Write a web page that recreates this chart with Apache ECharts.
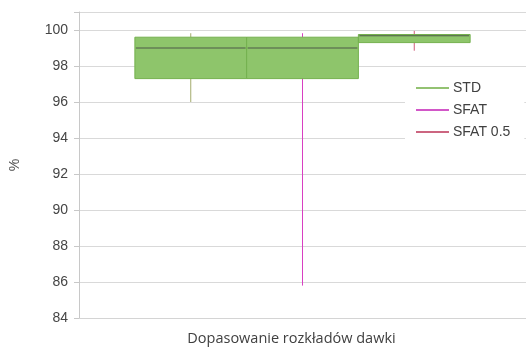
<!DOCTYPE html>
<html>
<head>
<meta charset="utf-8">
<script src="https://cdn.jsdelivr.net/npm/echarts@6/dist/echarts.min.js"></script>
<style>html,body{margin:0;padding:0;background:#fff}#c{width:526px;height:351px}</style>
</head>
<body>
<div id="c"></div>
<script>
// Data
const seriesNames = ['STD', 'SFAT', 'SFAT 0.5'];
const positions = [1, 2, 3];
// [min, q1, median, q3, max]
const stdValues = [96.0, 97.3, 99.0, 99.6, 99.82];
const sfatValues = [85.8, 97.3, 99.0, 99.6, 99.82];
const sfat05Values = [98.85, 99.3, 99.68, 99.75, 99.95];
const whiskerColors = ['#a3ab6c', '#d83fc2', '#cf5a78'];
const legendColors = ['#93c272', '#d257c8', '#cc6580'];
const yTicks = [84, 86, 88, 90, 92, 94, 96, 98, 100];

const allValues = [stdValues, sfatValues, sfat05Values];

function renderBox(params, api) {
  const x = api.value(0);
  const mn = api.value(1), q1 = api.value(2), md = api.value(3), q3 = api.value(4), mx = api.value(5);
  const w = api.size([1, 0])[0];
  const pMax = api.coord([x, mx]);
  const pQ3 = api.coord([x, q3]);
  const pMd = api.coord([x, md]);
  const pQ1 = api.coord([x, q1]);
  const pMin = api.coord([x, mn]);
  const left = pMax[0] - w / 2;
  const wc = whiskerColors[params.seriesIndex];
  return {
    type: 'group',
    children: [
      { type: 'line', shape: { x1: pMax[0], y1: pMax[1], x2: pQ3[0], y2: pQ3[1] }, style: { stroke: wc, lineWidth: 1 } },
      { type: 'line', shape: { x1: pQ1[0], y1: pQ1[1], x2: pMin[0], y2: pMin[1] }, style: { stroke: wc, lineWidth: 1 } },
      { type: 'rect', shape: { x: left, y: pQ3[1], width: w, height: pQ1[1] - pQ3[1] }, style: { fill: '#8ec56b', stroke: '#74b04e', lineWidth: 1 } },
      { type: 'line', shape: { x1: left + 1, y1: pMd[1], x2: left + w - 1, y2: pMd[1] }, style: { stroke: '#4d5a48', lineWidth: 1.2 } }
    ]
  };
}

const series = seriesNames.map((name, i) => ({
  name: name,
  type: 'custom',
  renderItem: renderBox,
  itemStyle: { color: legendColors[i] },
  encode: { x: 0, y: [1, 2, 3, 4, 5] },
  data: [[positions[i]].concat(allValues[i])]
}));

const chart = echarts.init(document.getElementById('c'), null, { renderer: 'canvas' });
chart.setOption({
  animation: false,
  backgroundColor: '#fff',
  grid: { left: 77, right: 0, top: 12, bottom: 32 },
  xAxis: {
    type: 'value', min: 0, max: 4,
    name: 'Dopasowanie rozkładów dawki',
    nameLocation: 'middle', nameGap: 13,
    nameTextStyle: { fontFamily: 'Open Sans', fontSize: 14.5, color: '#404040', padding: [0, 22, 0, 0] },
    axisLabel: { show: false }, axisTick: { show: false },
    splitLine: { show: false },
    axisLine: { show: true, lineStyle: { color: '#d4d4d4' } }
  },
  yAxis: {
    type: 'value', min: yTicks[0], max: 101, interval: 2,
    name: '%', nameLocation: 'middle', nameGap: 57, nameRotate: 90,
    nameTextStyle: { fontFamily: 'Liberation Sans', fontSize: 14, color: '#505050' },
    axisLine: { show: true, lineStyle: { color: '#c8c8c8' } },
    axisTick: { show: true, length: 5, lineStyle: { color: '#c8c8c8' } },
    axisLabel: {
      margin: 11, fontFamily: 'Liberation Sans', fontSize: 14, color: '#454545',
      formatter: v => (yTicks.indexOf(v) >= 0 ? String(v) : '')
    },
    splitLine: { show: true, lineStyle: { color: '#d9d9d9' } }
  },
  legend: {
    orient: 'vertical', left: 405, top: 76,
    backgroundColor: '#fff',
    padding: [5, 14, 5, 11],
    itemGap: 8, itemWidth: 33, itemHeight: 2, icon: 'rect',
    textStyle: { fontFamily: 'Liberation Sans', fontSize: 14, color: '#404040', padding: [0, 0, 0, -1] },
    data: seriesNames
  },
  series: series
});
</script>
</body>
</html>
